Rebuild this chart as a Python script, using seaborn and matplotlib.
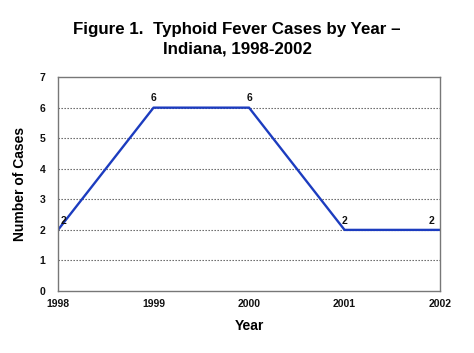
import matplotlib
matplotlib.use("Agg")
import matplotlib.pyplot as plt
import seaborn as sns
import pandas as pd

years = [1998, 1999, 2000, 2001, 2002]
cases = [2, 6, 6, 2, 2]
yticks = [0, 1, 2, 3, 4, 5, 6, 7]

sns.set_theme(style="white")
plt.rcParams['font.family'] = ['Liberation Sans', 'DejaVu Sans']
plt.rcParams['text.color'] = 'black'
plt.rcParams['axes.labelcolor'] = 'black'

df = pd.DataFrame({"Year": years, "Cases": cases})

fig = plt.figure(figsize=(4.74, 3.53), dpi=100)
ax = fig.add_axes([0.1224, 0.1756, 0.806, 0.606])

sns.lineplot(data=df, x="Year", y="Cases", ax=ax, color="#1c3cbf", linewidth=1.7)

ax.set_xlim(years[0], years[-1])
ax.set_ylim(0, 7)
ax.set_xticks(years)
ax.set_xticklabels([str(y) for y in years])
ax.set_yticks(yticks)
for y in yticks[1:-1]:
    ax.axhline(y, color="#555555", linestyle=(0, (1.2, 1.5)), linewidth=0.8, zorder=0)

ax.tick_params(axis='both', length=0, labelsize=7.5)
for lab in ax.get_xticklabels() + ax.get_yticklabels():
    lab.set_fontweight('bold')
    lab.set_color('#111111')
ax.tick_params(axis='y', pad=9)
ax.tick_params(axis='x', pad=6)

for s in ax.spines.values():
    s.set_color('#777777')
    s.set_linewidth(1.0)

ax.set_xlabel("Year", fontsize=10, fontweight='bold', labelpad=7, color='black')
ax.set_ylabel("Number of Cases", fontsize=10, fontweight='bold', labelpad=9, color='black')

n = len(years)
for i, (x, y) in enumerate(zip(years, cases)):
    if i == 0:
        dx, ha = 2, 'left'
    elif i == n - 1:
        dx, ha = -4, 'right'
    else:
        dx, ha = 0, 'center'
    ax.annotate(str(y), (x, y), xytext=(dx, 3), textcoords='offset points',
                ha=ha, va='bottom', fontsize=7.5, fontweight='bold', color='#111111')

fig.text(0.5, 0.89, "Figure 1.  Typhoid Fever Cases by Year \u2013\nIndiana, 1998-2002",
         ha='center', va='center', fontsize=12.2, fontweight='bold', linespacing=1.38,
         color='black')

fig.savefig("out.png", dpi=100, facecolor='white')
